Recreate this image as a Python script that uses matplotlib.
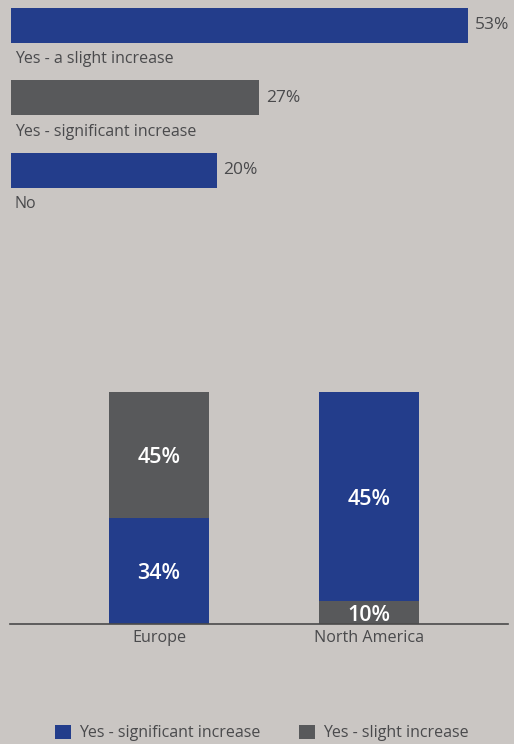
import matplotlib
matplotlib.use("Agg")
import matplotlib.pyplot as plt
from matplotlib.patches import Patch

# ---------------- data ----------------
top_categories = ["Yes - a slight increase", "Yes - significant increase", "No"]
top_labels = ["53%", "27%", "20%"]
top_lengths = [53, 28.8, 23.9]          # drawn bar lengths
top_colors_key = ["sig", "slight", "sig"]

regions = ["Europe", "North America"]
sig_heights = [45.7, 90.1]              # "Yes - significant increase" (blue)
slight_heights = [54.3, 9.9]            # "Yes - slight increase" (grey)
sig_labels = ["34%", "45%"]
slight_labels = ["45%", "10%"]
blue_on_bottom = [True, False]

legend_labels = ["Yes - significant increase", "Yes - slight increase"]

# ---------------- style ----------------
W, H = 514, 744
BG = "#CAC6C3"
BLUE = "#233D8B"
GREY = "#58595B"
TXT = "#4A4A4C"
colors = {"sig": BLUE, "slight": GREY}
plt.rcParams["font.family"] = ["Open Sans", "DejaVu Sans"]

fig = plt.figure(figsize=(W / 100, H / 100), dpi=100, facecolor=BG)

def px_axes(x0, y0, x1, y1):
    return fig.add_axes([x0 / W, 1 - y1 / H, (x1 - x0) / W, (y1 - y0) / H])

# ---------------- top horizontal bars ----------------
ax1 = px_axes(11, 0, 514, 220)
ax1.set_facecolor("none")
scale = 457 / 53.0
ax1.set_xlim(0, 503 / scale)
spacing = 72.5
ax1.set_ylim((220 - 25) / spacing, -25 / spacing)
ypos = list(range(len(top_categories)))
bar_h = 35 / spacing
ax1.barh(ypos, top_lengths, height=bar_h, color=[colors[k] for k in top_colors_key])
for y, L, lab, cat in zip(ypos, top_lengths, top_labels, top_categories):
    ax1.text(L + 0.75, y, lab, ha="left", va="center", fontsize=12.5, color=TXT)
    ax1.text(0.45, y + bar_h / 2 + 0.12, cat, ha="left", va="top", fontsize=11.5, color=TXT)
ax1.axis("off")

# ---------------- bottom stacked bars ----------------
ax2 = px_axes(10, 392, 508, 624)
ax2.set_facecolor("none")
xs = list(range(len(regions)))
step = 210.0
ax2.set_xlim(-(159 - 10) / step, (508 - 159) / step)
ax2.set_ylim(0, 100)
bw = 100 / step
for x, sh, slh, sl, sll, bb in zip(xs, sig_heights, slight_heights, sig_labels, slight_labels, blue_on_bottom):
    if bb:
        segs = [(sh, BLUE, sl), (slh, GREY, sll)]
    else:
        segs = [(slh, GREY, sll), (sh, BLUE, sl)]
    bottom = 0
    for h, c, lab in segs:
        ax2.bar(x, h, width=bw, bottom=bottom, color=c)
        ax2.text(x, bottom + h / 2 - 1.2, lab, ha="center", va="center", color="white",
                 fontsize=15.5, fontweight="semibold")
        bottom += h
for s in ["top", "right", "left"]:
    ax2.spines[s].set_visible(False)
ax2.spines["bottom"].set_color("#4A4A4A")
ax2.spines["bottom"].set_linewidth(1.2)
ax2.set_yticks([])
ax2.set_xticks(xs)
ax2.set_xticklabels(regions, fontsize=11.6, color=TXT)
ax2.tick_params(axis="x", length=0, pad=4.5)

# ---------------- legend ----------------
handles = [Patch(facecolor=BLUE), Patch(facecolor=GREY)]
leg = fig.legend(handles, legend_labels, loc="center", bbox_to_anchor=(262 / W, 1 - 733 / H),
                 ncol=2, frameon=False, fontsize=11.5, handlelength=1.0, handleheight=1.0,
                 handletextpad=0.5, columnspacing=2.4, borderpad=0)
for t in leg.get_texts():
    t.set_color(TXT)

fig.savefig("out.png", dpi=100, facecolor=BG)
